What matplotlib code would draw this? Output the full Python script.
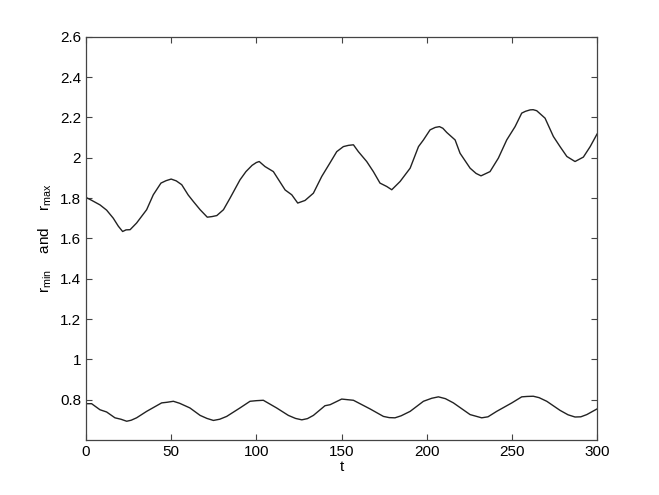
import matplotlib
matplotlib.use("Agg")
import matplotlib.pyplot as plt

plt.rcParams['font.family'] = ['Liberation Sans', 'DejaVu Sans']
plt.rcParams['mathtext.default'] = 'regular'

t_max = [0, 3, 8.2, 12.1, 16, 19, 21.5, 23.5, 25.9, 29.7, 35.6, 39.5, 44, 47, 50, 53, 56.2, 60, 63,
         67, 71.2, 74, 76.8, 80.7, 84.6, 90.4, 93.9, 97.5, 100, 101.7, 105.1, 110, 116.9, 120.8,
         124.3, 128.6, 133.5, 138.4, 143.3, 147.2, 151.1, 154, 157, 159.9, 164.8, 168.7, 172.6,
         176.6, 179.5, 184.4, 190.3, 195.2, 198.1, 202, 205, 207.5, 209.5, 211.8, 216.7, 219.6,
         225.5, 229, 231.9, 237.2, 242.1, 247, 251.9, 255.8, 258, 260.7, 262.5, 264.6, 269.5,
         274.4, 278.3, 282.3, 287.1, 292, 296, 300]
r_max = [1.803, 1.79, 1.766, 1.74, 1.70, 1.66, 1.634, 1.642, 1.643, 1.676, 1.742, 1.816, 1.874,
         1.886, 1.894, 1.885, 1.866, 1.815, 1.783, 1.742, 1.705, 1.708, 1.713, 1.742, 1.80, 1.89,
         1.931, 1.962, 1.976, 1.981, 1.956, 1.931, 1.84, 1.816, 1.775, 1.788, 1.824, 1.907, 1.975,
         2.03, 2.055, 2.061, 2.064, 2.03, 1.981, 1.931, 1.874, 1.857, 1.841, 1.882, 1.948, 2.055,
         2.088, 2.138, 2.150, 2.154, 2.146, 2.125, 2.088, 2.022, 1.948, 1.922, 1.910, 1.931, 1.998,
         2.088, 2.154, 2.221, 2.230, 2.237, 2.238, 2.233, 2.196, 2.105, 2.055, 2.006, 1.981, 2.003,
         2.055, 2.117]

t_min = [0, 3.3, 8.2, 12.1, 17, 20.5, 23.9, 26.5, 29.7, 35.6, 44.4, 47.5, 51.3, 55, 61, 67, 71,
         74.8, 78.5, 82.6, 90.4, 96.3, 100, 104.1, 111.9, 118.8, 123, 126.7, 130, 133.5, 140.3,
         143.3, 150.1, 153.5, 157, 166.8, 174.6, 178, 181.4, 185, 190.3, 198.1, 203, 206.9, 211,
         215.7, 225.5, 232.3, 236, 241.1, 250, 255.8, 259, 262.6, 266, 270.5, 278.3, 283, 287.1,
         290.5, 294, 300]
r_min = [0.780, 0.78, 0.75, 0.739, 0.71, 0.703, 0.693, 0.698, 0.71, 0.742, 0.784, 0.787, 0.792,
         0.782, 0.759, 0.722, 0.707, 0.697, 0.703, 0.717, 0.759, 0.792, 0.795, 0.797, 0.759, 0.722,
         0.707, 0.70, 0.706, 0.722, 0.77, 0.775, 0.803, 0.800, 0.797, 0.754, 0.717, 0.711, 0.71,
         0.72, 0.742, 0.792, 0.807, 0.814, 0.805, 0.784, 0.726, 0.71, 0.715, 0.742, 0.784, 0.814,
         0.816, 0.817, 0.81, 0.792, 0.747, 0.725, 0.714, 0.715, 0.726, 0.754]

x_ticks = [0, 50, 100, 150, 200, 250, 300]
y_ticks = [0.8, 1.0, 1.2, 1.4, 1.6, 1.8, 2.0, 2.2, 2.4, 2.6]
y_tick_labels = ['0.8', '1', '1.2', '1.4', '1.6', '1.8', '2', '2.2', '2.4', '2.6']

fig = plt.figure(figsize=(6.59, 4.95), dpi=100)
ax = fig.add_axes([86/659, 1 - 440/495, (597-86)/659, (440-36.7)/495])
ax.plot(t_max, r_max, color='#222222', lw=1.0)
ax.plot(t_min, r_min, color='#222222', lw=1.0)
ax.set_xlim(0, 300)
ax.set_ylim(0.6, 2.6)
ax.set_xticks(x_ticks)
ax.set_yticks(y_ticks)
ax.set_yticklabels(y_tick_labels)
ax.tick_params(direction='in', top=True, right=True, length=4, width=0.8,
               labelsize=11, color='#444444')
for s in ax.spines.values():
    s.set_color('#444444')
    s.set_linewidth(0.9)
ax.set_xlabel('t', fontsize=11, labelpad=1)
ax.set_ylabel(r'r$_{min}$    and    r$_{max}$', fontsize=11, labelpad=4)
fig.savefig('out.png', dpi=100)
